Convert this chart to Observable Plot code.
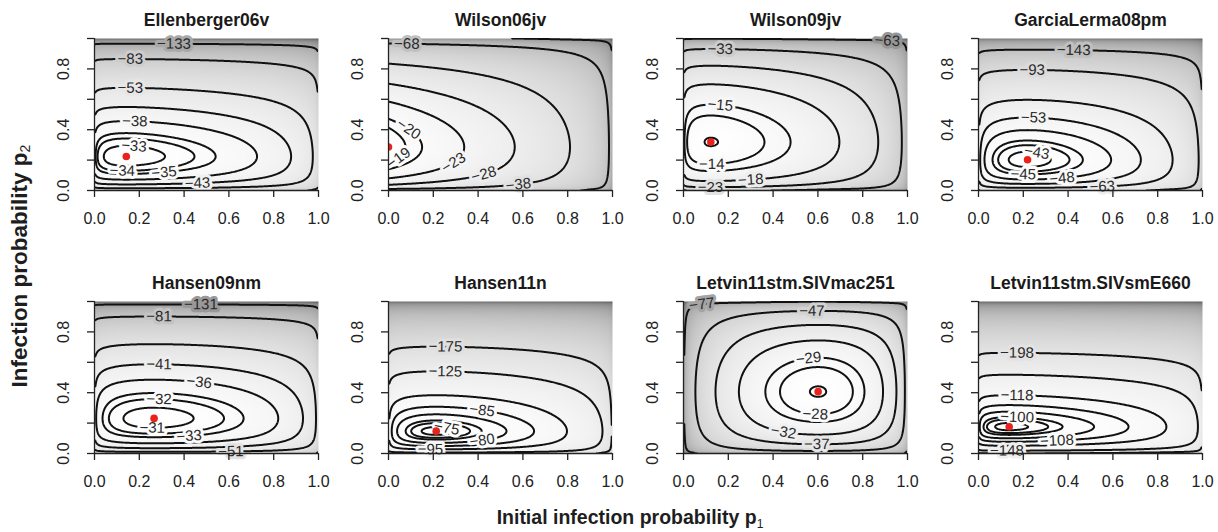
<!DOCTYPE html>
<html>
<head>
<meta charset="utf-8">
<script src="https://cdn.jsdelivr.net/npm/d3@7"></script>
<script src="https://cdn.jsdelivr.net/npm/@observablehq/plot@0.6"></script>
<style>
  body { margin: 0; background: #fff; }
  #fig { position: relative; width: 1218px; height: 532px; overflow: hidden;
         font-family: "Liberation Sans", Arial, Helvetica, sans-serif; color: #1e1e1e; }
  #fig svg { position: absolute; overflow: visible; }
  .gtitle { position: absolute; font-weight: bold; white-space: nowrap; line-height: 1; }
  .gtitle sub { font-size: 62%; vertical-align: -0.28em; font-weight: normal; }
</style>
</head>
<body>
<div id="fig">
  <div class="gtitle" style="left:21px; top:266px; font-size:22.5px; transform: translate(-50%,-50%) rotate(-90deg);">Infection probability p<sub>2</sub></div>
  <div class="gtitle" style="left:630px; top:519px; font-size:19.5px; transform: translate(-50%,-50%);">Initial infection probability p<sub>1</sub></div>
</div>
<script>
// ---------------- data ----------------
const studies = ["Ellenberger06v", "Wilson06jv", "Wilson09jv", "GarciaLerma08pm",
                 "Hansen09nm", "Hansen11n", "Letvin11stm.SIVmac251", "Letvin11stm.SIVsmE660"];
// maximum-likelihood estimates (red dots)
const mleP1 = [0.142, 0.0, 0.122, 0.219, 0.266, 0.213, 0.601, 0.137];
const mleP2 = [0.224, 0.286, 0.319, 0.202, 0.231, 0.147, 0.407, 0.176];
// effective numbers of first challenges / later challenges (curvature of the surface)
const nFirst = [7.5, 12, 7, 19, 7.5, 26, 18, 17];
const nLater = [48, 27, 16.5, 63, 40, 150, 20, 200];
// maximum log-likelihood
const maxLogLik = [-32.4, -18.05, -12.97, -42.5, -30.5, -74.6, -26.95, -97.6];
// contour levels of each panel
const contourLevels = [
  [-33, -34, -35, -38, -43, -53, -83, -133],
  [-18, -19, -20, -23, -28, -38, -68, -118],
  [-13, -14, -15, -18, -23, -33, -63, -113],
  [-43, -44, -45, -48, -53, -63, -93, -143],
  [-31, -32, -33, -36, -41, -51, -81, -131],
  [-75, -76, -77, -80, -85, -95, -125, -175],
  [-27, -28, -29, -32, -37, -47, -77, -127],
  [-98, -99, -100, -103, -108, -118, -148, -198]
];
// labelled contours: level, p1 where the label sits, branch (u = above the MLE, d = below)
const labelLevels = [
  [-133, -83, -53, -38, -33, -34, -35, -43],
  [-68, -20, -19, -23, -28, -38],
  [-33, -15, -14, -18, -23, -63],
  [-143, -93, -53, -43, -45, -48, -63],
  [-131, -81, -41, -36, -32, -31, -33, -51],
  [-175, -125, -85, -75, -80, -95],
  [-77, -47, -29, -28, -32, -37],
  [-198, -118, -100, -108, -148]
];
const labelAtP1 = [
  [0.355, 0.16, 0.16, 0.18, 0.176, 0.124, 0.31, 0.46],
  [0.082, 0.09, 0.045, 0.29, 0.425, 0.58],
  [0.164, 0.164, 0.126, 0.30, 0.12, 0.91],
  [0.425, 0.24, 0.246, 0.26, 0.20, 0.373, 0.552],
  [0.475, 0.288, 0.288, 0.467, 0.288, 0.258, 0.422, 0.609],
  [0.254, 0.254, 0.418, 0.26, 0.418, 0.187],
  [0.082, 0.573, 0.558, 0.588, 0.446, 0.595],
  [0.172, 0.172, 0.172, 0.35, 0.127]
];
const labelBranch = [
  ["u", "u", "u", "u", "u", "d", "d", "d"],
  ["u", "u", "d", "d", "d", "d"],
  ["u", "u", "d", "d", "d", "u"],
  ["u", "u", "u", "u", "d", "d", "d"],
  ["u", "u", "u", "u", "u", "d", "d", "d"],
  ["u", "u", "u", "u", "d", "d"],
  ["u", "u", "u", "d", "d", "d"],
  ["u", "u", "u", "d", "d"]
];
const xTicks = [0, 0.2, 0.4, 0.6, 0.8, 1.0];
const yTicks = [0, 0.2, 0.4, 0.6, 0.8, 1.0];
const yTickLabels = [0, 0.4, 0.8];

// ---------------- layout ----------------
const colLeft = [94, 388, 683, 978];
const rowTop = [38, 301];
const W = 224, H = 152;
const mL = 50, mT = 32, mR = 12, mB = 40;
const EPS = 0.004;
const FONT = '"Liberation Sans", Arial, Helvetica, sans-serif';

function kl(ph, p) {
  let s = 0;
  if (ph > 0) s += ph * Math.log(ph / p);
  if (ph < 1) s += (1 - ph) * Math.log((1 - ph) / (1 - p));
  return s;
}
function dkl(ph, p) { return -ph / p + (1 - ph) / (1 - p); }
const clampP = p => Math.min(1 - EPS, Math.max(EPS, p));

const fig = document.getElementById("fig");

studies.forEach((name, i) => {
  const a = mleP1[i], b = mleP2[i], n = nFirst[i], m = nLater[i], Lm = maxLogLik[i];
  const ll = (x, y) => Lm - n * kl(a, clampP(x)) - m * kl(b, clampP(y));
  const Lref = Math.min(ll(0, 0), ll(0, 1), ll(1, 0), ll(1, 1));
  const shade = (x, y) => {
    const t = Math.min(1, Math.max(0, (Lm - ll(x, y)) / (Lm - Lref)));
    return 1 - 0.62 * Math.pow(t, 0.8);
  };
  // labels on contours
  const labels = [];
  labelLevels[i].forEach((lev, k) => {
    const x = labelAtP1[i][k];
    let lo = b, hi = labelBranch[i][k] === "u" ? 1 - EPS : EPS;
    let flo = ll(x, lo) - lev, fhi = ll(x, hi) - lev;
    if (flo * fhi > 0) return;
    for (let it = 0; it < 60; it++) {
      const mid = (lo + hi) / 2, fm = ll(x, mid) - lev;
      if ((fm > 0) === (flo > 0)) { lo = mid; flo = fm; } else hi = mid;
    }
    const y = (lo + hi) / 2;
    const g1 = -n * dkl(a, clampP(x)), g2 = -m * dkl(b, clampP(y));
    let ang = Math.atan2(-g1 * H, -g2 * W) * 180 / Math.PI;
    if (ang > 90) ang -= 180;
    if (ang < -90) ang += 180;
    labels.push({x, y, t: "\u2212" + Math.abs(lev), r: ang, v: shade(x, y)});
  });

  const plot = Plot.plot({
    width: mL + W + mR, height: mT + H + mB,
    marginLeft: mL, marginTop: mT, marginRight: mR, marginBottom: mB,
    x: {domain: [0, 1], axis: null},
    y: {domain: [0, 1], axis: null},
    color: {type: "linear", domain: [0, 1], range: ["#000000", "#ffffff"], interpolate: "rgb", clamp: true},
    style: {fontFamily: FONT, background: "transparent", color: "#1e1e1e", overflow: "visible"},
    marks: [
      Plot.raster({x1: 0, x2: 1, y1: 0, y2: 1, fill: shade, pixelSize: 1}),
      Plot.contour({x1: -0.03, x2: 1.03, y1: -0.03, y2: 1.03, value: ll,
                    thresholds: contourLevels[i], stroke: "#111", strokeWidth: 2,
                    fill: "none", clip: true, pixelSize: 1}),
      Plot.text(labels, {x: "x", y: "y", text: "t", rotate: "r", stroke: "v",
                         fill: "#2a2a2a", strokeWidth: 6, paintOrder: "stroke",
                         strokeLinejoin: "round", fontSize: 15}),
      Plot.dot([{x: a, y: b}], {x: "x", y: "y", r: 3.8, fill: "#e8231e", stroke: "none", clip: true}),
      Plot.ruleY([0], {stroke: "#222", strokeWidth: 1.3}),
      Plot.ruleX([0], {stroke: "#222", strokeWidth: 1.3}),
      Plot.axisX({ticks: xTicks, tickSize: 7, tickFormat: () => "", label: null,
                  stroke: "#222", strokeWidth: 1.3}),
      Plot.axisY({ticks: yTicks, tickSize: 7, tickFormat: () => "", label: null,
                  stroke: "#222", strokeWidth: 1.3}),
      Plot.text(xTicks, {x: d => d, text: d => d.toFixed(1), frameAnchor: "bottom",
                         dy: 28, fontSize: 16, fill: "#222",
                         textAnchor: "middle", lineAnchor: "middle"}),
      Plot.text(yTickLabels, {y: d => d, text: d => d.toFixed(1), frameAnchor: "left",
                              dx: -31, rotate: -90, fontSize: 16, fill: "#222",
                              textAnchor: "middle", lineAnchor: "middle"}),
      Plot.text([name], {text: d => d, frameAnchor: "top", dy: -18, lineAnchor: "middle",
                         fontWeight: "bold", fontSize: 17.5, fill: "#1a1a1a"})
    ]
  });
  const col = i % 4, row = Math.floor(i / 4);
  plot.style.left = (colLeft[col] - mL) + "px";
  plot.style.top = (rowTop[row] - mT) + "px";
  fig.appendChild(plot);
});
</script>
</body>
</html>
